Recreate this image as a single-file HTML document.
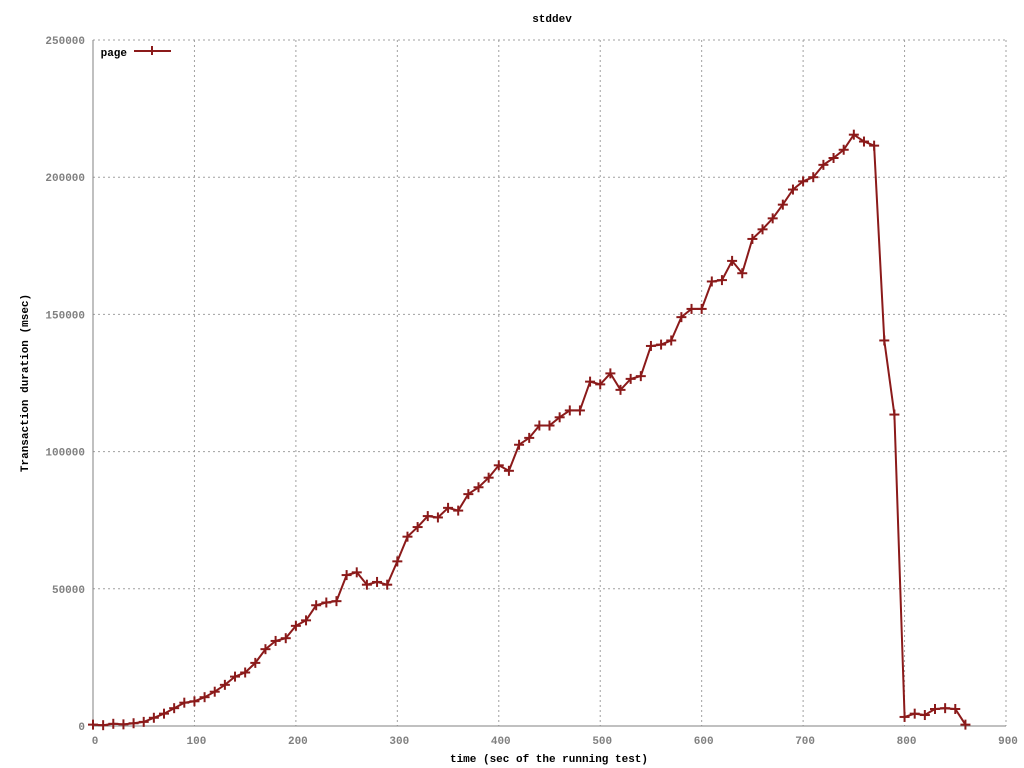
<!DOCTYPE html>
<html><head><meta charset="utf-8"><style>
html,body{margin:0;padding:0;background:#fff;}
svg{display:block;font-family:"Liberation Mono","DejaVu Sans Mono",monospace;font-size:11px;font-weight:bold;}
</style></head><body>
<svg id="chart" width="1024" height="768" viewBox="0 0 1024 768" xmlns="http://www.w3.org/2000/svg">
<text x="552" y="22" text-anchor="middle">stddev</text>
<text transform="translate(28,383) rotate(-90)" text-anchor="middle">Transaction duration (msec)</text>
<text x="549" y="762" text-anchor="middle">time (sec of the running test)</text>
<g id="grid"></g><g id="axes"></g><g id="series"></g>
<g>
<text x="127" y="56" text-anchor="end">page</text>
<line x1="134" y1="51" x2="171" y2="51" stroke="#8b1a1a" stroke-width="2"/>
<line x1="152" y1="46" x2="152" y2="55" stroke="#8b1a1a" stroke-width="2"/>
</g>
</svg>
<script>
const xTicks=[0,100,200,300,400,500,600,700,800,900];
const yTicks=[0,50000,100000,150000,200000,250000];
const times=[0,10,20,30,40,50,60,70,80,90,100,110,120,130,140,150,160,170,180,190,200,210,220,230,240,250,260,270,280,290,300,310,320,330,340,350,360,370,380,390,400,410,420,430,440,450,460,470,480,490,500,510,520,530,540,550,560,570,580,590,600,610,620,630,640,650,660,670,680,690,700,710,720,730,740,750,760,770,780,790,800,810,820,830,840,850,860];
const values=[500,300,800,600,1000,1500,3000,4500,6500,8500,9000,10500,12500,15000,18000,19500,23000,28000,31000,32000,36500,38500,44000,45000,45500,55000,56000,51500,52500,51500,60000,69000,72500,76500,76000,79500,78500,84500,87000,90500,95000,93000,102500,105000,109500,109500,112500,115000,115000,125500,124500,128500,122500,126500,127500,138500,139000,140500,149000,152000,152000,162000,162500,169500,165000,177500,181000,185000,190000,195500,198500,200000,204500,207000,210000,215500,213000,211500,140500,113500,3300,4500,4000,6200,6500,6200,500];
const L=93,R=1006,T=40,B=726;
const xs=v=>L+(v-0)/900*(R-L);
const ys=v=>B-(v/250000)*(B-T);
const NS="http://www.w3.org/2000/svg";
function mk(tag,attrs,parent){const e=document.createElementNS(NS,tag);for(const k in attrs)e.setAttribute(k,attrs[k]);parent.appendChild(e);return e;}
const grid=document.getElementById('grid'),axes=document.getElementById('axes'),ser=document.getElementById('series');
xTicks.forEach(t=>{const x=xs(t);
 if(t>0){const g=mk('line',{x1:x,y1:T,x2:x,y2:B,stroke:'#a0a0a0','stroke-dasharray':'2,3','stroke-width':1},grid);
 
 }
 const tx=mk('text',{x:x+2,y:B+18,'text-anchor':'middle',fill:'#808080'},axes);tx.textContent=t;
 
 
});
yTicks.forEach(t=>{const y=ys(t);
 if(t>0){const g=mk('line',{x1:L,y1:y,x2:R,y2:y,stroke:'#a0a0a0','stroke-dasharray':'2,3','stroke-width':1},grid);
 
 }
 const tx=mk('text',{x:L-8,y:y+4,'text-anchor':'end',fill:'#808080'},axes);tx.textContent=t;
 
 
});
const ya=mk('line',{x1:L,y1:T,x2:L,y2:B,stroke:'#808080','stroke-width':1},axes);


const xa=mk('line',{x1:L,y1:B,x2:R,y2:B,stroke:'#808080','stroke-width':1},axes);


const pts=times.map((t,i)=>xs(t).toFixed(1)+','+ys(values[i]).toFixed(1)).join(' ');
const line=mk('polyline',{points:pts,fill:'none',stroke:'#8b1a1a','stroke-width':2},ser);


times.forEach((t,i)=>{const x=xs(t),y=ys(values[i]);
 const g=mk('g',{stroke:'#8b1a1a','stroke-width':2},ser);
 
 
 mk('line',{x1:x-5,y1:y,x2:x+5,y2:y},g);mk('line',{x1:x,y1:y-5,x2:x,y2:y+5},g);
});
</script>
</body></html>
